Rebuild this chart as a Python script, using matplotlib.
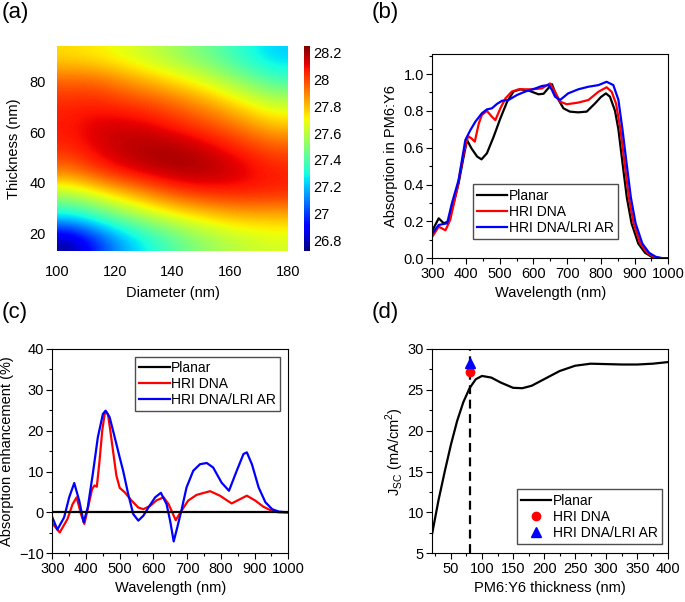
import numpy as np
import matplotlib
matplotlib.use("Agg")
import matplotlib.pyplot as plt
from matplotlib.ticker import MultipleLocator

plt.rcParams['font.family'] = ['Liberation Sans', 'DejaVu Sans']
plt.rcParams['mathtext.fontset'] = 'custom'
plt.rcParams['mathtext.rm'] = 'Liberation Sans'
plt.rcParams['font.size'] = 10.5

FS = 10.5

# ----------------------------
# (a) Jsc map: diameter vs thickness
# ----------------------------
diameter = [100, 110, 120, 130, 140, 150, 160, 170, 180]
thickness = [13, 23, 33, 43, 53, 63, 73, 83, 93]
jsc_map = [
    [26.75, 26.95, 27.15, 27.28, 27.40, 27.50, 27.57, 27.62, 27.65],  # t=13
    [27.25, 27.35, 27.47, 27.57, 27.66, 27.72, 27.78, 27.80, 27.80],  # t=23
    [27.58, 27.68, 27.78, 27.88, 27.97, 28.03, 28.05, 28.06, 28.05],  # t=33
    [27.92, 28.02, 28.10, 28.15, 28.19, 28.20, 28.17, 28.12, 28.07],  # t=43
    [28.05, 28.12, 28.17, 28.20, 28.20, 28.16, 28.10, 28.04, 27.98],  # t=53
    [28.08, 28.13, 28.14, 28.12, 28.07, 28.02, 27.96, 27.88, 27.80],  # t=63
    [28.05, 28.06, 28.03, 28.00, 27.95, 27.88, 27.80, 27.70, 27.62],  # t=73
    [27.95, 27.95, 27.88, 27.82, 27.75, 27.68, 27.58, 27.48, 27.38],  # t=83
    [27.75, 27.72, 27.68, 27.62, 27.56, 27.48, 27.40, 27.30, 27.22],  # t=93
]

# ----------------------------
# (b) absorption in PM6:Y6
# ----------------------------
wl_b_planar = [300, 319, 334, 348, 363, 378, 393, 403, 416, 433, 446, 462, 482, 502,
               522, 541, 561, 586, 615, 630, 645, 655, 669, 689, 708, 733, 758, 783,
               800, 815, 827, 842, 852, 864, 877, 891, 911, 931, 951, 975, 1000]
abs_planar = [0.15, 0.217, 0.19, 0.2, 0.298, 0.407, 0.552, 0.642, 0.597, 0.552, 0.537,
              0.57, 0.66, 0.76, 0.85, 0.905, 0.917, 0.91, 0.89, 0.893, 0.925, 0.945,
              0.877, 0.814, 0.796, 0.792, 0.796, 0.841, 0.875, 0.895, 0.877, 0.8, 0.7,
              0.52, 0.33, 0.19, 0.08, 0.03, 0.008, 0.0, 0.0]

wl_b_hri = [300, 319, 339, 353, 373, 393, 406, 416, 426, 438, 447, 462, 477, 487, 502,
            517, 536, 556, 596, 625, 649, 664, 679, 699, 733, 763, 793, 817, 832, 845,
            858, 870, 883, 897, 917, 937, 957, 980, 1000]
abs_hri = [0.117, 0.172, 0.152, 0.208, 0.37, 0.57, 0.663, 0.651, 0.633, 0.732, 0.778,
           0.8, 0.768, 0.75, 0.814, 0.868, 0.905, 0.917, 0.917, 0.922, 0.949, 0.904,
           0.85, 0.836, 0.845, 0.859, 0.904, 0.928, 0.904, 0.84, 0.7, 0.52, 0.33, 0.19,
           0.08, 0.03, 0.008, 0.0, 0.0]

wl_b_ar = [300, 319, 344, 358, 378, 398, 413, 428, 447, 462, 477, 492, 507, 526, 551,
           576, 606, 625, 645, 655, 664, 679, 703, 733, 763, 793, 817, 837, 852, 864,
           876, 889, 903, 923, 943, 963, 985, 1000]
abs_ar = [0.135, 0.181, 0.19, 0.298, 0.425, 0.642, 0.696, 0.742, 0.787, 0.808, 0.814,
          0.838, 0.855, 0.859, 0.886, 0.905, 0.922, 0.935, 0.94, 0.913, 0.877, 0.859,
          0.895, 0.917, 0.931, 0.94, 0.958, 0.94, 0.86, 0.7, 0.52, 0.33, 0.19, 0.08,
          0.03, 0.008, 0.0, 0.0]

# ----------------------------
# (c) absorption enhancement (%)
# ----------------------------
wl_c_planar = [300, 1000]
enh_planar = [0, 0]

wl_c_hri = [300, 322, 345, 360, 372, 385, 395, 408, 418, 425, 432, 440, 448, 455, 460,
            465, 472, 480, 490, 500, 515, 535, 555, 570, 590, 610, 630, 645, 666, 683,
            703, 728, 768, 797, 832, 877, 902, 926, 956, 976, 1000]
enh_hri = [-2.7, -4.9, -1.6, 2.0, 3.7, -0.4, -2.8, 2.0, 5.7, 6.6, 6.3, 12.6, 20.0, 24.0,
           24.6, 24.0, 20.0, 15.1, 9.0, 6.0, 4.9, 2.9, 1.2, 0.8, 1.6, 3.0, 3.7, 2.0,
           -1.9, 0.4, 2.9, 4.3, 5.2, 4.1, 2.2, 4.1, 2.9, 1.4, 0.2, 0.0, 0.0]

wl_c_ar = [300, 315, 335, 350, 365, 380, 393, 405, 420, 435, 450, 458, 470, 485, 500,
           510, 525, 540, 555, 570, 585, 605, 622, 639, 650, 660, 669, 683, 698, 718,
           738, 758, 777, 802, 824, 847, 867, 877, 892, 912, 932, 952, 972, 1000]
enh_ar = [-1.2, -4.2, -1.2, 3.7, 7.2, 2.8, -2.4, 1.2, 9.4, 18.4, 24.1, 24.9, 23.3, 18.4,
          13.4, 10.2, 4.5, -0.4, -2.0, -0.8, 1.2, 3.7, 4.8, 2.0, -2.3, -7.1, -4.2, 0.5,
          6.1, 10.2, 11.8, 12.1, 11.0, 7.3, 5.3, 10.2, 14.3, 14.7, 11.8, 6.1, 2.5, 0.8,
          0.2, 0.0]

# ----------------------------
# (d) Jsc vs active-layer thickness
# ----------------------------
thk_planar = [20, 30, 40, 50, 60, 70, 80, 90, 100, 115, 130, 150, 165, 180, 200, 225,
              250, 275, 300, 325, 350, 375, 400]
jsc_planar = [7.5, 11.5, 15.0, 18.3, 21.2, 23.5, 25.2, 26.3, 26.7, 26.5, 25.9, 25.25,
              25.2, 25.5, 26.3, 27.3, 27.95, 28.2, 28.15, 28.1, 28.1, 28.2, 28.4]
thk_design = 80
jsc_hri = 27.2
jsc_ar = 28.3

fig = plt.figure(figsize=(6.85, 6.02), dpi=100)


def style_axes(ax):
    for s in ax.spines.values():
        s.set_linewidth(0.8)
    ax.tick_params(which='both', direction='out', top=False, right=False, labelsize=FS)
    ax.tick_params(which='major', length=4, width=0.8, pad=2)
    ax.tick_params(which='minor', length=2, width=0.8)


leg_kw = dict(frameon=True, fancybox=False, edgecolor='0.3', framealpha=1,
              handlelength=2.2, handletextpad=0.1, labelspacing=0.15,
              borderpad=0.3, borderaxespad=0, fontsize=10)

# (a)
ax_a = fig.add_axes([0.0832, 0.583, 0.3372, 0.3405])
im = ax_a.imshow(jsc_map, cmap='jet', origin='lower', aspect='auto',
                 extent=[100, 180, 13, 94], vmin=26.72, vmax=28.25,
                 interpolation='bicubic')
ax_a.set_xlim(100, 180)
ax_a.set_ylim(13, 94)
ax_a.set_xticks([100, 120, 140, 160, 180])
ax_a.set_yticks([20, 40, 60, 80])
for s in ax_a.spines.values():
    s.set_visible(False)
ax_a.tick_params(length=0, labelsize=FS)
ax_a.tick_params(axis='x', pad=10)
ax_a.tick_params(axis='y', pad=8)
ax_a.set_xlabel("Diameter (nm)", fontsize=FS, labelpad=5)
ax_a.set_ylabel("Thickness (nm)", fontsize=FS, labelpad=6)
cax = fig.add_axes([0.4438, 0.583, 0.0088, 0.3405])
cb = fig.colorbar(im, cax=cax)
cb.set_ticks([26.8, 27.0, 27.2, 27.4, 27.6, 27.8, 28.0, 28.2])
cb.set_ticklabels(['26.8', '27', '27.2', '27.4', '27.6', '27.8', '28', '28.2'])
cb.outline.set_visible(False)
cax.tick_params(length=0, labelsize=FS, pad=2)

# (b)
ax_b = fig.add_axes([0.6311, 0.5709, 0.3445, 0.3389])
ax_b.plot(wl_b_planar, abs_planar, color='black', lw=1.6, label='Planar')
ax_b.plot(wl_b_hri, abs_hri, color='red', lw=1.6, label='HRI DNA')
ax_b.plot(wl_b_ar, abs_ar, color='blue', lw=1.6, label='HRI DNA/LRI AR')
ax_b.set_xlim(300, 1000)
ax_b.set_ylim(0, 1.107)
ax_b.xaxis.set_major_locator(MultipleLocator(100))
ax_b.xaxis.set_minor_locator(MultipleLocator(50))
ax_b.yaxis.set_major_locator(MultipleLocator(0.2))
ax_b.yaxis.set_minor_locator(MultipleLocator(0.1))
style_axes(ax_b)
ax_b.set_xlabel("Wavelength (nm)", fontsize=FS)
ax_b.set_ylabel("Absorption in PM6:Y6", fontsize=FS)
ax_b.legend(loc='lower left', bbox_to_anchor=(0.171, 0.095), **leg_kw)

# (c)
ax_c = fig.add_axes([0.0764, 0.0809, 0.3445, 0.3394])
ax_c.plot(wl_c_planar, enh_planar, color='black', lw=1.6, label='Planar', zorder=3)
ax_c.plot(wl_c_hri, enh_hri, color='red', lw=1.6, label='HRI DNA')
ax_c.plot(wl_c_ar, enh_ar, color='blue', lw=1.6, label='HRI DNA/LRI AR')
ax_c.set_xlim(300, 1000)
ax_c.set_ylim(-10, 40)
ax_c.xaxis.set_major_locator(MultipleLocator(100))
ax_c.xaxis.set_minor_locator(MultipleLocator(50))
ax_c.yaxis.set_major_locator(MultipleLocator(10))
ax_c.yaxis.set_minor_locator(MultipleLocator(5))
style_axes(ax_c)
ax_c.set_xlabel("Wavelength (nm)", fontsize=FS)
ax_c.set_ylabel("Absorption enhancement (%)", fontsize=FS)
ax_c.legend(loc='upper right', bbox_to_anchor=(0.965, 0.961), **leg_kw)

# (d)
ax_d = fig.add_axes([0.6311, 0.0809, 0.3445, 0.3394])
ax_d.plot(thk_planar, jsc_planar, color='black', lw=1.6, label='Planar')
ax_d.axvline(thk_design, color='black', lw=1.6, ls=(0, (4, 2.5)), zorder=1)
ax_d.plot([thk_design], [jsc_hri], 'o', color='red', ms=6, label='HRI DNA', ls='none')
ax_d.plot([thk_design], [jsc_ar], '^', color='blue', ms=6.5, label='HRI DNA/LRI AR',
          ls='none')
ax_d.set_xlim(20, 400)
ax_d.set_ylim(5, 30)
ax_d.xaxis.set_major_locator(MultipleLocator(50))
ax_d.xaxis.set_minor_locator(MultipleLocator(25))
ax_d.yaxis.set_major_locator(MultipleLocator(5))
ax_d.yaxis.set_minor_locator(MultipleLocator(2.5))
style_axes(ax_d)
ax_d.set_xlabel("PM6:Y6 thickness (nm)", fontsize=FS)
ax_d.set_ylabel(r"J$_{\mathregular{SC}}$ (mA/cm$^{\mathregular{2}}$)", fontsize=FS,
                labelpad=1)
ax_d.legend(loc='lower right', bbox_to_anchor=(0.973, 0.046), **leg_kw)

# panel labels
fig.text(2 / 685, 1 - 2 / 602, "(a)", fontsize=16, va='top', ha='left')
fig.text(372 / 685, 1 - 2 / 602, "(b)", fontsize=16, va='top', ha='left')
fig.text(2 / 685, 1 - 302 / 602, "(c)", fontsize=16, va='top', ha='left')
fig.text(372 / 685, 1 - 302 / 602, "(d)", fontsize=16, va='top', ha='left')

fig.savefig("out.png", dpi=100)
plt.close(fig)
